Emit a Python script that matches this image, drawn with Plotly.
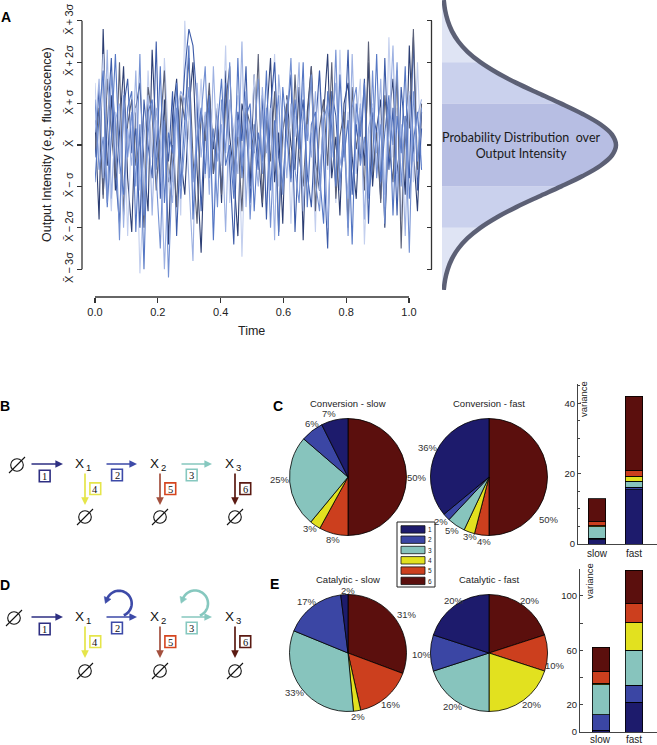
import math
import plotly.graph_objects as go

W, H = 657, 745


def fx(x):
    return x / W


def fy(y):
    return 1 - y / H


# ------------------------------------------------------------------ data
# Panel A: output intensity time courses (in units of sigma around the mean)
time_step = 0.013
trace_1 = [0.6, -1.8, 2.8, -0.5, 1.2, -1.1, 0.3, 1.9, -0.8, -2.1,
           0.9, 1.5, -0.4, -1.6, 2.3, 0.1, -0.9, 1.1, -2.4, 0.7,
           1.6, -0.3, -1.2, 0.8, 2.0, -0.6, -2.6, 0.4, 1.3, -0.1,
           0.9, -1.4, 1.8, 0.2, -0.7, -2.2, 1.0, 0.5, -1.0, 1.7,
           -0.2, -1.5, 0.6, 2.1, -0.9, 0.3, -1.9, 1.2, 0.0, -0.6,
           1.4, -2.3, 0.8, 1.9, -0.4, -1.1, 0.7, 2.2, -0.8, 0.2,
           -1.7, 1.0, 1.5, -0.3, -1.3, 0.9, -0.5, 2.0, -1.0, 0.4,
           1.1, -2.0, 0.6, 1.6, -0.7, 0.3, -1.2, 2.4, -0.1, -1.6,
           0.8]
trace_2 = [-0.3, 1.4, -1.2, 0.5, 2.1, -0.7, -1.9, 0.9, 1.6, -0.2,
           0.4, -2.0, 1.1, 0.0, -0.8, 2.5, -1.3, 0.6, -0.4, 1.3,
           -2.2, 0.2, 1.8, 2.8, 2.4, 1.0, -1.6, 0.7, 0.9, -0.7,
           0.3, -1.1, 1.5, -0.5, -2.4, 0.8, 0.1, 1.9, -1.4, 0.5,
           -0.6, 1.2, -1.8, 0.9, 2.0, -0.3, -1.0, 0.6, 1.7, -2.1,
           0.2, 1.1, -0.7, -1.5, 0.4, 1.8, -0.2, -2.5, 1.3, 0.7,
           -0.9, 0.0, 2.3, -1.2, 0.5, -0.4, 1.6, -1.9, 0.8, 0.3,
           -1.3, 2.1, -0.6, 0.9, -1.7, 1.4, 0.2, -0.8, 2.6, -1.1,
           0.4]
trace_3 = [1.1, -0.6, 0.2, -1.4, 1.7, 0.5, -2.3, 1.2, -0.3, 0.8,
           -1.0, 2.2, -1.7, 0.3, 1.0, -0.9, -2.5, 0.6, -3.2, -0.4,
           0.9, -1.3, 0.1, 1.4, -0.9, 0.2, 0.7, 1.9, -0.8, 0.4,
           -1.5, 1.1, -0.2, 2.0, -1.1, 0.6, -0.5, 1.3, -1.8, 0.2,
           1.6, -0.7, 0.9, -2.0, 0.3, 1.2, -1.2, 0.5, 2.1, -0.6,
           -1.4, 0.8, 0.1, 1.7, -0.9, -1.6, 0.6, 1.0, -0.3, 2.3,
           -1.1, 0.4, -2.2, 0.9, 1.4, -0.5, 0.2, -1.3, 1.8, -0.8,
           0.5, -1.9, 1.1, 0.0, 2.0, -1.0, 0.7, -2.6, 1.3, -0.4,
           0.9]
trace_4 = [-0.9, 0.7, 1.8, -1.5, 0.2, 2.2, -0.4, -1.2, 0.9, 1.3,
           -2.1, 0.5, -3.0, 0.8, 1.1, -0.6, 1.9, -1.4, 0.3, -0.2,
           1.5, -1.0, 0.6, 2.4, -1.8, 0.1, 0.9, -0.7, 1.2, -2.3,
           0.4, 1.6, -0.5, 0.0, -1.3, 2.1, -0.8, 0.7, 1.0, -1.6,
           0.3, -0.4, 1.8, -1.1, 0.6, -2.2, 1.4, 0.2, -0.9, 1.1,
           -0.1, 2.0, -1.5, 0.5, 0.8, -0.7, -1.9, 1.3, 0.4, -1.0,
           1.7, -0.3, 0.6, -2.4, 1.0, 0.2, 1.5, -1.2, -0.5, 2.2,
           -0.9, 0.3, 1.2, -1.7, 0.7, -0.2, 1.9, -1.3, 0.1, 0.8,
           -0.6]
trace_5 = [0.3, 1.6, -0.8, 2.3, -1.3, 0.6, 1.0, -2.0, 0.4, -0.5,
           1.8, -1.1, 0.2, 1.2, -1.7, 0.9, 0.1, -3.0, -0.6, -1.4,
           0.7, 1.3, 1.1, -0.9, -2.8, 1.5, -0.3, 0.8, -1.2, 1.9,
           -0.4, 0.5, -2.1, 1.1, 0.3, -0.7, 2.5, -1.5, 0.6, 0.0,
           -1.0, 1.4, -0.2, 0.9, -2.3, 1.7, 0.4, -0.8, 1.0, 0.2,
           2.0, -1.6, 0.5, -0.3, 1.3, -1.1, 0.8, -2.0, 0.6, 1.5,
           -0.5, 0.1, -1.3, 2.2, -0.7, 1.0, -1.8, 0.4, 0.9, -0.2,
           1.6, -1.2, 0.3, 2.4, -1.0, 0.5, -2.2, 1.2, -0.4, 0.7,
           1.1]
trace_6 = [1.5, -0.4, 2.2, 0.1, -1.6, 0.8, -0.7, 1.3, -2.2, 0.5,
           0.9, -3.1, -1.0, 1.8, -0.3, 0.6, -1.2, 2.1, 0.2, -0.9,
           1.1, -1.7, 3.0, 0.4, -1.3, 0.0, 1.6, -0.8, 0.7, -2.0,
           1.0, -0.5, 2.4, -1.4, 0.3, 1.2, -2.7, 0.6, -0.1, 1.7,
           -0.6, 0.9, -1.5, 0.2, 2.2, -1.0, 0.4, 1.1, -1.9, 0.7,
           -0.2, 1.5, -0.9, 0.3, -2.1, 1.8, 0.0, -0.6, 1.2, -1.4,
           2.3, -0.4, 0.8, -1.1, 0.5, 1.6, -2.4, 0.1, 1.0, -0.7,
           0.6, -1.5, 2.6, -0.3, 0.9, -1.8, 0.4, 1.3, -0.9, 2.0,
           -0.5]
trace_7 = [-0.1, 0.9, -1.3, 1.6, 0.3, -0.8, 2.0, -1.7, 0.5, 1.1,
           -0.5, 0.2, -2.0, 1.4, 0.7, -1.1, 0.4, 1.8, -0.9, 0.0,
           -1.5, 1.2, 0.6, 2.1, -0.3, -1.9, 0.8, 0.1, 1.5, -0.7,
           0.4, -1.2, 1.0, 1.9, -0.6, 0.2, -1.6, 0.9, 0.5, -0.2,
           2.2, -1.4, 0.7, -0.4, 1.3, -2.1, 0.3, 1.0, -0.8, 1.7,
           -0.3, -1.0, 0.6, 1.9, -1.6, 0.4, 1.1, -0.5, 2.0, -1.3,
           0.2, 0.8, -2.0, 1.4, -0.1, 0.6, -1.1, 2.5, -0.7, 0.3,
           -1.4, 1.2, 0.0, -0.9, 1.8, -2.5, 0.7, 0.4, 2.8, -0.6,
           1.0]
time_ticks = [0.0, 0.2, 0.4, 0.6, 0.8, 1.0]
time_labels = ["0.0", "0.2", "0.4", "0.6", "0.8", "1.0"]
sigma_ticks = [-3, -2, -1, 0, 1, 2, 3]
sigma_labels = ["X\u0304\u2009\u2212\u20093\u03c3", "X\u0304\u2009\u2212\u20092\u03c3", "X\u0304\u2009\u2212\u2009\u03c3",
                "X\u0304", "X\u0304\u2009+\u2009\u03c3", "X\u0304\u2009+\u20092\u03c3", "X\u0304\u2009+\u20093\u03c3"]

# distribution outline (relative width at each sigma level)
bell_z = [-3.5, -3.25, -3.0, -2.75, -2.5, -2.25, -2.0, -1.75, -1.5, -1.25, -1.0, -0.75, -0.5, -0.25,
          0.0, 0.25, 0.5, 0.75, 1.0, 1.25, 1.5, 1.75, 2.0, 2.25, 2.5, 2.75, 3.0, 3.25, 3.5]
bell_w = [0.010, 0.018, 0.033, 0.057, 0.094, 0.147, 0.220, 0.314, 0.427, 0.554, 0.685, 0.808, 0.910, 0.977,
          1.000, 0.977, 0.910, 0.808, 0.685, 0.554, 0.427, 0.314, 0.220, 0.147, 0.094, 0.057, 0.033, 0.018, 0.010]

# Panels C / E: contributions of reactions 1..6
reaction_ids = ["1", "2", "3", "4", "5", "6"]
conv_slow_pct = [7.4, 6.3, 25.3, 3.0, 8.0, 50.0]
conv_fast_pct = [36, 2, 5, 3, 4, 50]
cat_slow_pct = [2, 17, 33, 2, 16, 31]
cat_fast_pct = [20, 10, 20, 20, 10, 20]
speed_labels = ["slow", "fast"]
conv_var_slow = [1.2, 0.5, 3.2, 0.3, 1.15, 6.45]
conv_var_fast = [15.4, 0.7, 1.8, 1.4, 1.7, 21.0]
cat_var_slow = [1.2, 11.5, 22.0, 1.2, 8.6, 17.8]
cat_var_fast = [22.0, 12.2, 25.7, 20.8, 13.4, 24.5]

# ------------------------------------------------------------------ styles
reaction_colors = ["#1d1b6c", "#3b46a4", "#87c4bd", "#e2e11f", "#cc3f1e", "#5b0f0d"]
arrow_colors = ["#2e2f82", "#3d4aa8", "#86c8bf", "#e5e54a", "#a4503e", "#5b1a12"]
box_colors = ["#2e2f82", "#3d4aa8", "#86c8bf", "#e5e54a", "#d5451f", "#5b1a12"]
SANS = "Liberation Sans"

fig = go.Figure()

# ---- Panel A time courses (drawing order, colour)
series = [(trace_1, "#2c3e73"), (trace_6, "#c3cfee"), (trace_2, "#3c5ba8"), (trace_7, "#5a6078"),
          (trace_5, "#9db1e2"), (trace_4, "#5577c4"), (trace_3, "#7390d2")]
for vals, col in series:
    fig.add_trace(go.Scatter(y=vals, x0=0, dx=time_step, mode="lines",
                             line=dict(color=col, width=1.1), hoverinfo="skip",
                             xaxis="x", yaxis="y"))

# ---- distribution bands
band_colors = {(2, 3.5): "#dfe4f4", (-3.5, -2): "#dfe4f4", (1, 2): "#cad1ed",
               (-2, -1): "#cad1ed", (-1, 1): "#b7bee3"}
for (lo, hi), col in band_colors.items():
    pts = [(w, z) for z, w in zip(bell_z, bell_w) if lo <= z <= hi]
    xs = [p[0] for p in pts] + [0, 0]
    ys = [p[1] for p in pts] + [hi, lo]
    fig.add_trace(go.Scatter(x=xs, y=ys, mode="lines", fill="toself", fillcolor=col,
                             line=dict(width=0, color=col), hoverinfo="skip",
                             xaxis="x2", yaxis="y2"))
fig.add_trace(go.Scatter(x=bell_w, y=bell_z, mode="lines", line=dict(color="#5c6075", width=4.5, shape="spline"),
                         hoverinfo="skip", xaxis="x2", yaxis="y2"))

# ---- pies (reaction 1 starts at 12 o'clock, going counter-clockwise)
pie_specs = [
    (conv_slow_pct, 348, 477, "Conversion - slow"),
    (conv_fast_pct, 489, 477, "Conversion - fast"),
    (cat_slow_pct, 348, 653, "Catalytic - slow"),
    (cat_fast_pct, 489, 653, "Catalytic - fast"),
]
# where each percentage label sits (pixel positions, reactions 1..6)
pie_label_pos = [
    [(329, 413), (312, 423), (280, 480), (310, 528), (333, 539), (417, 477)],
    [(428, 448), (441, 521), (452, 530), (470, 536.5), (484, 541), (549, 519)],
    [(348, 590), (307, 601), (295, 692), (358, 716), (391, 704), (407, 614)],
    [(454, 600), (422, 654), (453, 706), (532, 704), (555, 665), (530, 600)],
]
R = 58.5
for vals, cx, cy, title in pie_specs:
    fig.add_trace(go.Pie(labels=reaction_ids[::-1], values=vals[::-1], sort=False, direction="clockwise",
                         rotation=0,
                         marker=dict(colors=reaction_colors[::-1], line=dict(color="black", width=0.8)),
                         textinfo="none",
                         domain=dict(x=[fx(cx - R), fx(cx + R)], y=[fy(cy + R), fy(cy - R)]),
                         hoverinfo="skip", showlegend=False, automargin=False))

# ---- stacked bars
for i, col in enumerate(reaction_colors):
    fig.add_trace(go.Bar(x=speed_labels, y=[conv_var_slow[i], conv_var_fast[i]], width=0.486,
                         marker=dict(color=col, line=dict(color="black", width=0.8)),
                         hoverinfo="skip", xaxis="x3", yaxis="y3"))
    fig.add_trace(go.Bar(x=speed_labels, y=[cat_var_slow[i], cat_var_fast[i]], width=0.545,
                         marker=dict(color=col, line=dict(color="black", width=0.8)),
                         hoverinfo="skip", xaxis="x4", yaxis="y4"))

# ------------------------------------------------------------------ shapes & annotations
shapes = []
annots = []


def ann(x, y, text, size, color="#222", family=SANS, angle=0, xanchor="center", yanchor="middle"):
    annots.append(dict(x=fx(x), y=fy(y), xref="paper", yref="paper", text=text, showarrow=False,
                       font=dict(family=family, size=size, color=color), textangle=angle,
                       xanchor=xanchor, yanchor=yanchor))


# pie percentage labels
for (vals, cx, cy, title), positions in zip(pie_specs, pie_label_pos):
    total = sum(vals)
    for v, (lx, ly) in zip(vals, positions):
        ann(lx, ly, "%d%%" % round(100 * v / total), 9.5, color="#333")

# category labels under the catalytic bars (kept inside the page)
for k, lab in enumerate(speed_labels):
    annots.append(dict(x=k, y=fy(739.5), xref="x4", yref="paper", text=lab, showarrow=False,
                       font=dict(family=SANS, size=10, color="#222"), xanchor="center", yanchor="middle"))

# axis lines of panel A (R style, from first to last tick)
shapes.append(dict(type="line", xref="x", yref="paper", x0=0, x1=1, y0=fy(297), y1=fy(297),
                   line=dict(color="#333", width=1.3)))
shapes.append(dict(type="line", xref="paper", yref="y", x0=fx(82), x1=fx(82), y0=-3, y1=3,
                   line=dict(color="#333", width=1.3)))
shapes.append(dict(type="line", xref="paper", yref="y2", x0=fx(431.5), x1=fx(431.5), y0=-3, y1=3,
                   line=dict(color="#333", width=1.3)))

ann(47, 145, "Output Intensity (e.g. fluorescence)", 12.5, angle=-90)
ann(251, 331, "Time", 12.5)
ann(521, 145, "Probability Distribution  over<br>Output Intensity", 12.5, color="#1a1a1a", family="Lato")

# panel letters
for letter, x, y in [("A", 6, 17), ("B", 5, 406), ("C", 278, 406), ("D", 5, 585), ("E", 274, 584)]:
    ann(x, y, "<b>%s</b>" % letter, 14, color="black", family="Liberation Sans")

# pie titles
for vals, cx, cy, title in pie_specs:
    ann(cx, cy - 74, title, 9.5)


# ---- reaction network diagrams
def empty_set(cx, cy):
    r = 6.3
    shapes.append(dict(type="circle", xref="paper", yref="paper", x0=fx(cx - r), x1=fx(cx + r),
                       y0=fy(cy + r), y1=fy(cy - r), line=dict(color="#111", width=1.1)))
    shapes.append(dict(type="line", xref="paper", yref="paper", x0=fx(cx - 8), x1=fx(cx + 8),
                       y0=fy(cy + 8), y1=fy(cy - 8), line=dict(color="#111", width=1.1)))


def arrow(x0, y0, x1, y1, col):
    annots.append(dict(x=fx(x1), y=fy(y1), xref="paper", yref="paper", ax=x0 - x1, ay=y0 - y1,
                       axref="pixel", ayref="pixel", text="", showarrow=True, arrowhead=2,
                       arrowsize=0.9, arrowwidth=1.7, arrowcolor=col, standoff=0, startstandoff=0))


def numbox(cx, cy, label, col):
    shapes.append(dict(type="rect", xref="paper", yref="paper", x0=fx(cx - 5.4), x1=fx(cx + 5.4),
                       y0=fy(cy + 5.8), y1=fy(cy - 5.8), line=dict(color=col, width=1.6),
                       fillcolor="white"))
    ann(cx, cy + 0.5, label, 10.5, color="#111", family="Liberation Serif")


def species(x, y, idx):
    ann(x, y, "X", 13.5, color="#111")
    ann(x + 9.5, y + 4, idx, 9.5, color="#111")


def curl(cx, cy, r, col):
    a0, a1 = 68.0, -158.0
    n = 40
    pts = []
    for i in range(n + 1):
        a = math.radians(a0 + (a1 - a0) * i / n)
        pts.append((cx + r * math.cos(a), cy + r * math.sin(a)))
    path = "M " + " L ".join("%.5f,%.5f" % (fx(px), fy(py)) for px, py in pts)
    shapes.append(dict(type="path", xref="paper", yref="paper", path=path,
                       line=dict(color=col, width=2.6)))
    a = math.radians(a1)
    ex, ey = pts[-1]
    dx, dy = math.sin(a), -math.cos(a)
    nx, ny = -dy, dx
    tip = (ex + dx * 5, ey + dy * 5)
    b1 = (ex - dx * 1 + nx * 3.6, ey - dy * 1 + ny * 3.6)
    b2 = (ex - dx * 1 - nx * 3.6, ey - dy * 1 - ny * 3.6)
    tri = "M %.5f,%.5f L %.5f,%.5f L %.5f,%.5f Z" % (fx(tip[0]), fy(tip[1]), fx(b1[0]), fy(b1[1]),
                                                    fx(b2[0]), fy(b2[1]))
    shapes.append(dict(type="path", xref="paper", yref="paper", path=tri, fillcolor=col,
                       line=dict(color=col, width=0.5)))


for dy, src_x, catalytic in [(0, 17, False), (153, 14, True)]:
    ry = 464 + dy
    empty_set(src_x, ry + 1)
    arrow(30, ry, 63, ry, arrow_colors[0])
    arrow(105, ry, 137, ry, arrow_colors[1])
    arrow(180, ry, 212, ry, arrow_colors[2])
    species(79, ry - 1, "1")
    species(154, ry - 1, "2")
    species(229, ry - 1, "3")
    numbox(44.7, ry + 12, "1", box_colors[0])
    numbox(117, ry + 11, "2", box_colors[1])
    numbox(191.7, ry + 11, "3", box_colors[2])
    for k, xx in enumerate([85, 160, 235]):
        arrow(xx, ry + 8, xx, ry + 41, arrow_colors[3 + k])
        numbox(xx + 10.3, ry + 24.7, str(4 + k), box_colors[3 + k])
        empty_set(xx, ry + 53 + (1 if dy else 0))
    if catalytic:
        curl(119, ry - 13.5, 12.7, arrow_colors[1])
        curl(195, ry - 13.5, 13.0, arrow_colors[2])

# ---- legend box
shapes.append(dict(type="rect", xref="paper", yref="paper", x0=fx(397), x1=fx(435), y0=fy(587),
                   y1=fy(522), line=dict(color="#222", width=1), fillcolor="white"))
for k, (lab, col) in enumerate(zip(reaction_ids, reaction_colors)):
    top = 525.7 + k * 10.3
    shapes.append(dict(type="rect", xref="paper", yref="paper", x0=fx(401), x1=fx(425),
                       y0=fy(top + 7.4), y1=fy(top), line=dict(color="#111", width=0.8), fillcolor=col))
    ann(429.5, top + 3.9, lab, 6.5, color="#222")

# variance labels
ann(583, 399, "variance", 9.5, angle=-90)
ann(589, 581, "variance", 9.5, angle=-90)

# ------------------------------------------------------------------ layout
tick_font = dict(family=SANS, size=11, color="#222")
fig.update_layout(
    width=W, height=H, margin=dict(l=0, r=0, t=0, b=0, pad=0, autoexpand=False),
    paper_bgcolor="white", plot_bgcolor="rgba(0,0,0,0)",
    showlegend=False, barmode="stack", bargap=0,
    xaxis=dict(domain=[fx(95), fx(424.7)], range=[0, 1.05], anchor="free", position=fy(297),
               tickvals=time_ticks, ticktext=time_labels, ticks="outside", ticklen=5, tickwidth=1.3,
               tickcolor="#333", showgrid=False, zeroline=False, showline=False, tickfont=tick_font,
               automargin=False),
    yaxis=dict(domain=[fy(290), fy(0)], range=[-3.502, 3.502], anchor="free", position=fx(82),
               tickvals=sigma_ticks, ticktext=sigma_labels, tickangle=-90, ticks="outside", ticklen=5,
               tickwidth=1.3, tickcolor="#333", showgrid=False, zeroline=False, showline=False,
               tickfont=dict(family=SANS, size=11, color="#222"), automargin=False),
    xaxis2=dict(domain=[fx(442), fx(624.7)], range=[0, 1.05], anchor="y2", visible=False, automargin=False),
    yaxis2=dict(domain=[fy(290), fy(0)], range=[-3.502, 3.502], anchor="free", position=fx(431.5),
                side="left", tickvals=sigma_ticks, showticklabels=False, ticks="outside", ticklen=5,
                tickwidth=1.3, tickcolor="#333", showgrid=False, zeroline=False, showline=False,
                automargin=False),
    xaxis3=dict(domain=[fx(578), 1.0], range=[-0.5135, 1.6216], anchor="y3", showline=True,
                linecolor="#444", linewidth=1, ticks="", showgrid=False, zeroline=False,
                tickfont=dict(family=SANS, size=10, color="#222"), automargin=False),
    yaxis3=dict(domain=[fy(544), fy(384)], range=[0, 45.5], anchor="x3", showline=True, linecolor="#444",
                linewidth=1, ticks="inside", ticklen=3, tickcolor="#444", tickvals=[0, 20, 40],
                minor=dict(dtick=5, ticks="inside", ticklen=2, tickcolor="#444"),
                showgrid=False, zeroline=False, tickfont=dict(family=SANS, size=9.5, color="#222"),
                automargin=False),
    xaxis4=dict(domain=[fx(580), 1.0], range=[-0.636, 1.697], anchor="y4", showline=True,
                linecolor="#444", linewidth=1, ticks="", showgrid=False, zeroline=False,
                showticklabels=False, automargin=False),
    yaxis4=dict(domain=[fy(732), fy(568.5)], range=[0, 120], anchor="x4", showline=True, linecolor="#444",
                linewidth=1, ticks="inside", ticklen=3, tickcolor="#444",
                tickvals=[0, 20, 40, 60, 80, 100], ticktext=["0", "20", "", "60", "", "100"],
                showgrid=False, zeroline=False, tickfont=dict(family=SANS, size=9.5, color="#222"),
                automargin=False),
    shapes=shapes, annotations=annots,
)

# the page's default 8px body margin would shift the whole figure; remove it
fig.write_html("out.html", config={"displayModeBar": False, "staticPlot": True},
               post_script="document.body.style.margin='0';document.body.style.overflow='hidden';")
